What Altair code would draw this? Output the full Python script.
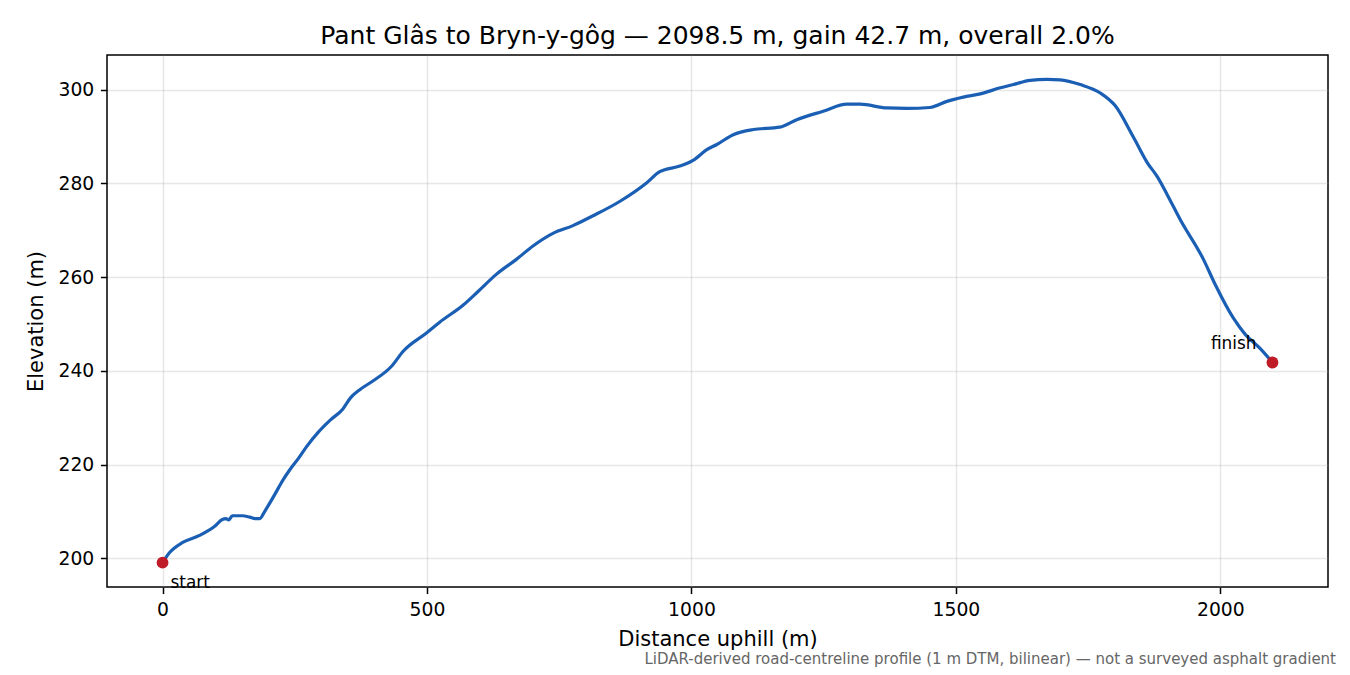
import altair as alt
import pandas as pd

# road-centreline profile
distance_m = [
    0, 13, 38, 70, 98, 113, 120, 125, 132, 151, 165, 175, 184, 193, 212, 227,
    240, 258, 272, 295, 316, 341, 355, 373, 397, 433, 455, 499, 524, 568, 597,
    631, 669, 701, 739, 776, 814, 865, 915, 940, 978, 1003, 1029, 1048, 1079,
    1117, 1167, 1199, 1249, 1294, 1319, 1369, 1407, 1451, 1483, 1514, 1546,
    1584, 1609, 1640, 1672, 1697, 1735, 1773, 1801, 1835, 1862, 1881, 1900,
    1924, 1968, 1990, 2025, 2047, 2075, 2098.5,
]
elevation_m = [
    199.1, 201.2, 203.4, 204.9, 206.8, 208.3, 208.5, 208.2, 209.1, 209.1, 208.8,
    208.5, 208.5, 210.0, 213.6, 216.6, 218.8, 221.5, 223.8, 227.0, 229.4, 231.9,
    234.2, 236.0, 237.8, 241.0, 244.2, 248.1, 250.4, 254.0, 257.0, 260.6, 263.8,
    266.7, 269.4, 271.0, 273.1, 276.2, 280.1, 282.5, 283.7, 284.9, 287.2, 288.3,
    290.4, 291.5, 292.0, 293.6, 295.4, 296.9, 296.9, 296.1, 296.0, 296.2, 297.5,
    298.4, 299.1, 300.4, 301.1, 302.0, 302.2, 302.1, 301.1, 299.3, 296.6, 290.0,
    284.4, 281.4, 277.5, 272.3, 263.8, 258.5, 251.2, 247.8, 244.8, 241.8,
]
end_labels = ["start", "finish"]
x_ticks = [0, 500, 1000, 1500, 2000]
y_ticks = [200, 220, 240, 260, 280, 300]

TITLE = "Pant Glâs to Bryn-y-gôg — 2098.5 m, gain 42.7 m, overall 2.0%"
NOTE = "LiDAR-derived road-centreline profile (1 m DTM, bilinear) — not a surveyed asphalt gradient"
FONT = "DejaVu Sans"
LINE_BLUE = "#1a5fb4"
DOT_RED = "#c01c28"
W, H = 1221, 532

profile = pd.DataFrame({"distance": distance_m, "elevation": elevation_m})
ends = profile.iloc[[0, -1]].reset_index(drop=True)
ends["label"] = end_labels

x_enc = alt.X("distance:Q", title="Distance uphill (m)",
              scale=alt.Scale(domain=[-105, 2203.5], nice=False, zero=False),
              axis=alt.Axis(values=x_ticks, format="d", titlePadding=10))
y_enc = alt.Y("elevation:Q", title="Elevation (m)",
              scale=alt.Scale(domain=[193.9, 307.4], nice=False, zero=False),
              axis=alt.Axis(values=y_ticks, format="d", titlePadding=12))

line = alt.Chart(profile).mark_line(
    color=LINE_BLUE, strokeWidth=3.2, interpolate="monotone"
).encode(x=x_enc, y=y_enc)

dots = alt.Chart(ends).mark_circle(color=DOT_RED, size=140, opacity=1).encode(x=x_enc, y=y_enc)

start_txt = alt.Chart(ends.iloc[[0]]).mark_text(
    align="left", baseline="middle", dx=8, dy=20, fontSize=16.9, font=FONT, color="black"
).encode(x=x_enc, y=y_enc, text="label:N")

finish_txt = alt.Chart(ends.iloc[[1]]).mark_text(
    align="right", baseline="middle", dx=-16, dy=-18, fontSize=16.9, font=FONT, color="black"
).encode(x=x_enc, y=y_enc, text="label:N")

# title and footnote drawn as text marks so they sit where matplotlib put them
title_txt = alt.Chart(pd.DataFrame({"t": [TITLE]})).mark_text(
    align="center", baseline="alphabetic", fontSize=25, font=FONT, color="black"
).encode(x=alt.value(W / 2), y=alt.value(-11), text="t:N")

note = alt.Chart(pd.DataFrame({"note": [NOTE]})).mark_text(
    align="right", baseline="alphabetic", fontSize=15, font=FONT, color="#666666"
).encode(x=alt.value(1229), y=alt.value(609), text="note:N")

chart = alt.layer(line, dots, start_txt, finish_txt, title_txt, note).properties(
    width=W,
    height=H,
    autosize=alt.AutoSizeParams(type="none"),
    padding={"left": 99, "top": 47, "right": 14, "bottom": 80},
).configure_axis(
    labelFont=FONT, labelFontSize=18.75, labelColor="black",
    titleFont=FONT, titleFontSize=21, titleFontWeight="normal", titleColor="black",
    domain=False, tickColor="black", tickWidth=1.5, tickSize=6.6,
    labelPadding=6.6, gridColor="#b0b0b0", gridOpacity=0.3, gridWidth=1.5,
).configure_view(stroke="black", strokeWidth=1.5)

chart.save("out.html", embed_options={"renderer": "svg", "actions": False})
